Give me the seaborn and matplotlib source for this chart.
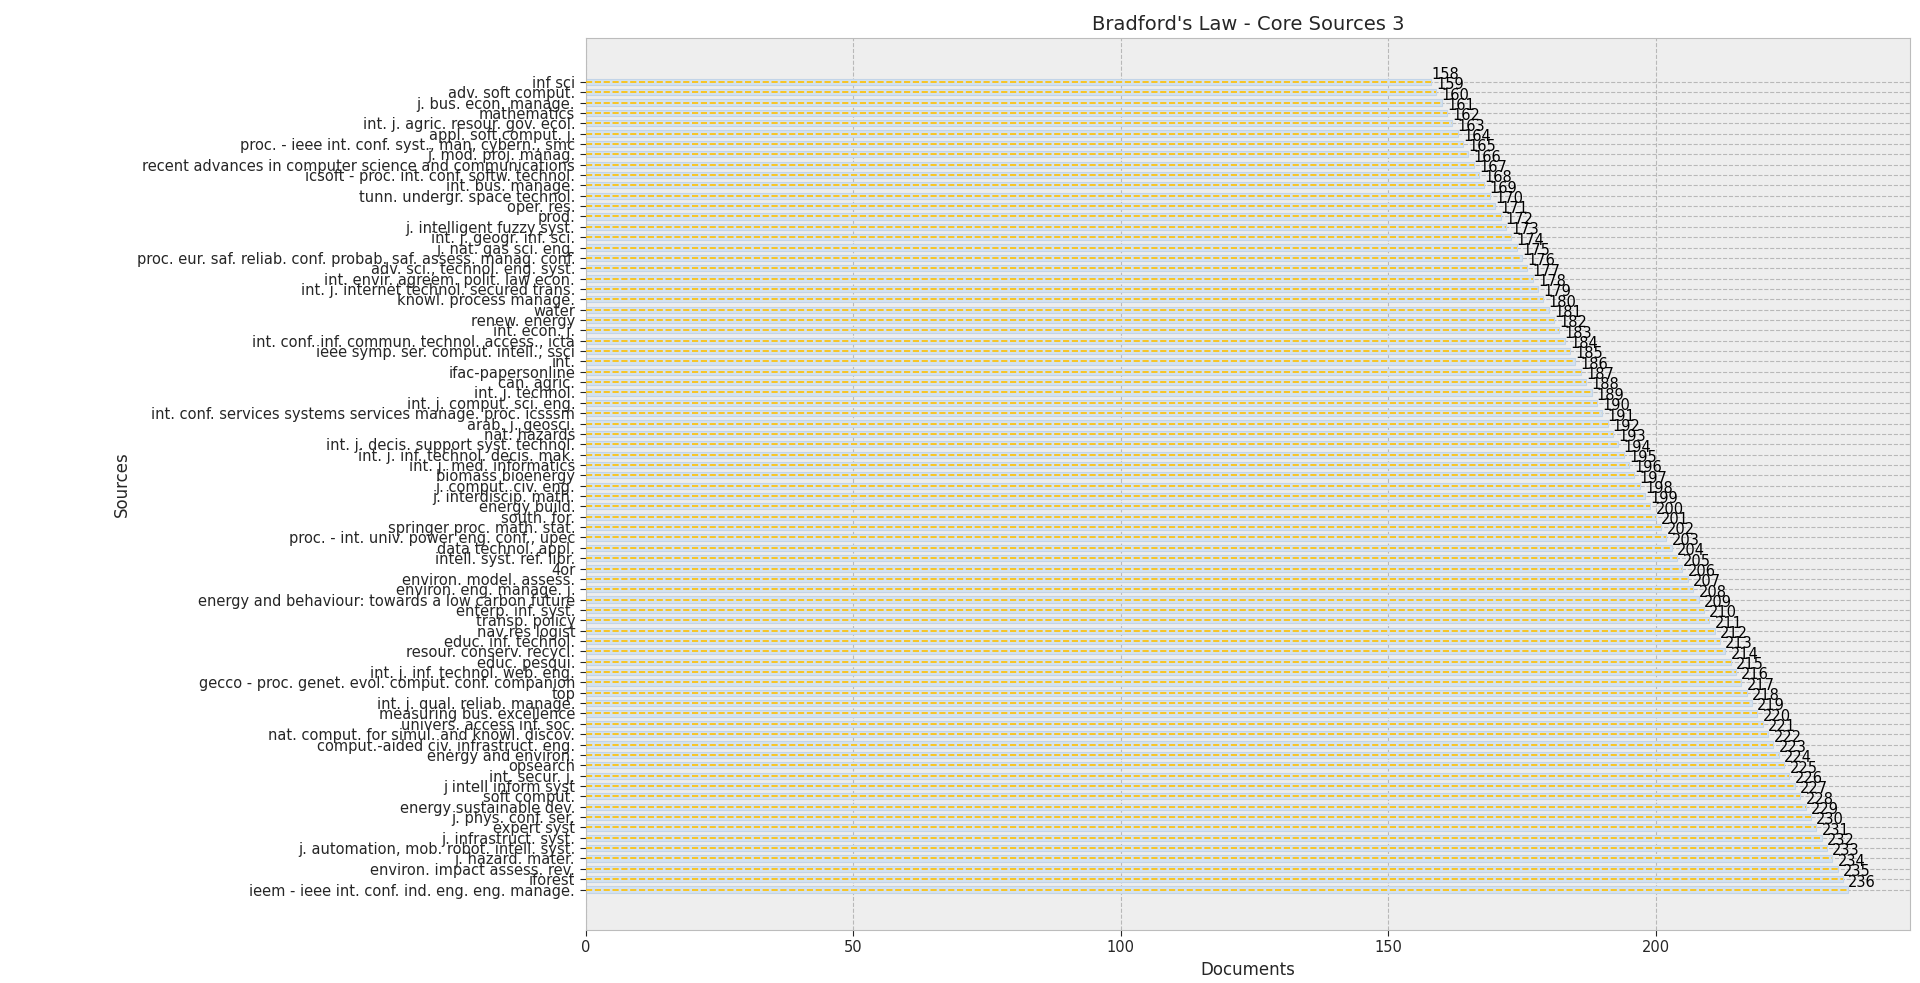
import matplotlib
matplotlib.use("Agg")
import matplotlib.pyplot as plt
import seaborn as sns
import pandas as pd

sources = [
    "inf sci", "adv. soft comput.", "j. bus. econ. manage.", "mathematics",
    "int. j. agric. resour. gov. ecol.", "appl. soft comput. j.",
    "proc. - ieee int. conf. syst., man, cybern., smc", "j. mod. proj. manag.",
    "recent advances in computer science and communications",
    "icsoft - proc. int. conf. softw. technol.", "int. bus. manage.",
    "tunn. undergr. space technol.", "oper. res.", "prod.",
    "j. intelligent fuzzy syst.", "int. j. geogr. inf. sci.", "j. nat. gas sci. eng.",
    "proc. eur. saf. reliab. conf. probab. saf. assess. manag. conf.",
    "adv. sci., technol. eng. syst.", "int. envir. agreem. polit. law econ.",
    "int. j. internet technol. secured trans.", "knowl. process manage.", "water",
    "renew. energy", "int. econ. j.", "int. conf. inf. commun. technol. access., icta",
    "ieee symp. ser. comput. intell., ssci", "int.", "ifac-papersonline",
    "can. agric.", "int. j. technol.", "int. j. comput. sci. eng.",
    "int. conf. services systems services manage. proc. icsssm", "arab. j. geosci.",
    "nat. hazards", "int. j. decis. support syst. technol.",
    "int. j. inf. technol. decis. mak.", "int. j. med. informatics",
    "biomass bioenergy", "j. comput. civ. eng.", "j. interdiscip. math.",
    "energy build.", "south. for.", "springer proc. math. stat.",
    "proc. - int. univ. power eng. conf., upec", "data technol. appl.",
    "intell. syst. ref. libr.", "4or", "environ. model. assess.",
    "environ. eng. manage. j.", "energy and behaviour: towards a low carbon future",
    "enterp. inf. syst.", "transp. policy", "nav res logist", "educ. inf. technol.",
    "resour. conserv. recycl.", "educ. pesqui.", "int. j. inf. technol. web. eng.",
    "gecco - proc. genet. evol. comput. conf. companion", "top",
    "int. j. qual. reliab. manage.", "measuring bus. excellence",
    "univers. access inf. soc.", "nat. comput. for simul. and knowl. discov.",
    "comput.-aided civ. infrastruct. eng.", "energy and environ.", "opsearch",
    "int. secur. j.", "j intell inform syst", "soft comput.",
    "energy sustainable dev.", "j. phys. conf. ser.", "expert syst",
    "j. infrastruct. syst.", "j. automation, mob. robot. intell. syst.",
    "j. hazard. mater.", "environ. impact assess. rev.", "iforest",
    "ieem - ieee int. conf. ind. eng. eng. manage.",
]
documents = list(range(158, 158 + len(sources)))

df = pd.DataFrame({"Sources": sources, "Documents": documents})

sns.set_style("darkgrid", {"axes.facecolor": "#eeeeee", "grid.color": "#b8b8b8",
                           "grid.linestyle": "--", "axes.edgecolor": "#bcbcbc"})
plt.rcParams["font.family"] = ["DejaVu Sans"]

fig, ax = plt.subplots(figsize=(19.2, 9.83), dpi=100)
fig.subplots_adjust(left=0.305, right=0.995, top=0.961, bottom=0.054)

sns.barplot(data=df, x="Documents", y="Sources", orient="h", color="#d3e2f0",
            edgecolor="#c2d4e8", linewidth=0.8, width=0.6, saturation=1, ax=ax)
ax.hlines(range(len(df)), 0, df["Documents"], colors="#ffc000",
          linestyles="--", linewidth=1.2, zorder=3)

for i, v in enumerate(df["Documents"]):
    ax.text(v, i, str(v), va="bottom", ha="left", fontsize=10.5, color="black")

ax.grid(True, axis="both", color="#b8b8b8", linestyle="--", linewidth=0.8)
ax.set_axisbelow(True)
ax.set_xlim(0, 247.6)
ax.set_ylim(len(df) - 1 + 3.9, -4.2)
ax.set_title("Bradford's Law - Core Sources 3", fontsize=14)
ax.set_xlabel("Documents", fontsize=12)
ax.set_ylabel("Sources", fontsize=12)
ax.tick_params(axis="y", labelsize=10.5, length=4, left=True)
ax.tick_params(axis="x", labelsize=10.5, length=4, bottom=True)
ax.set_xticks([0, 50, 100, 150, 200])

plt.savefig("out.png")
